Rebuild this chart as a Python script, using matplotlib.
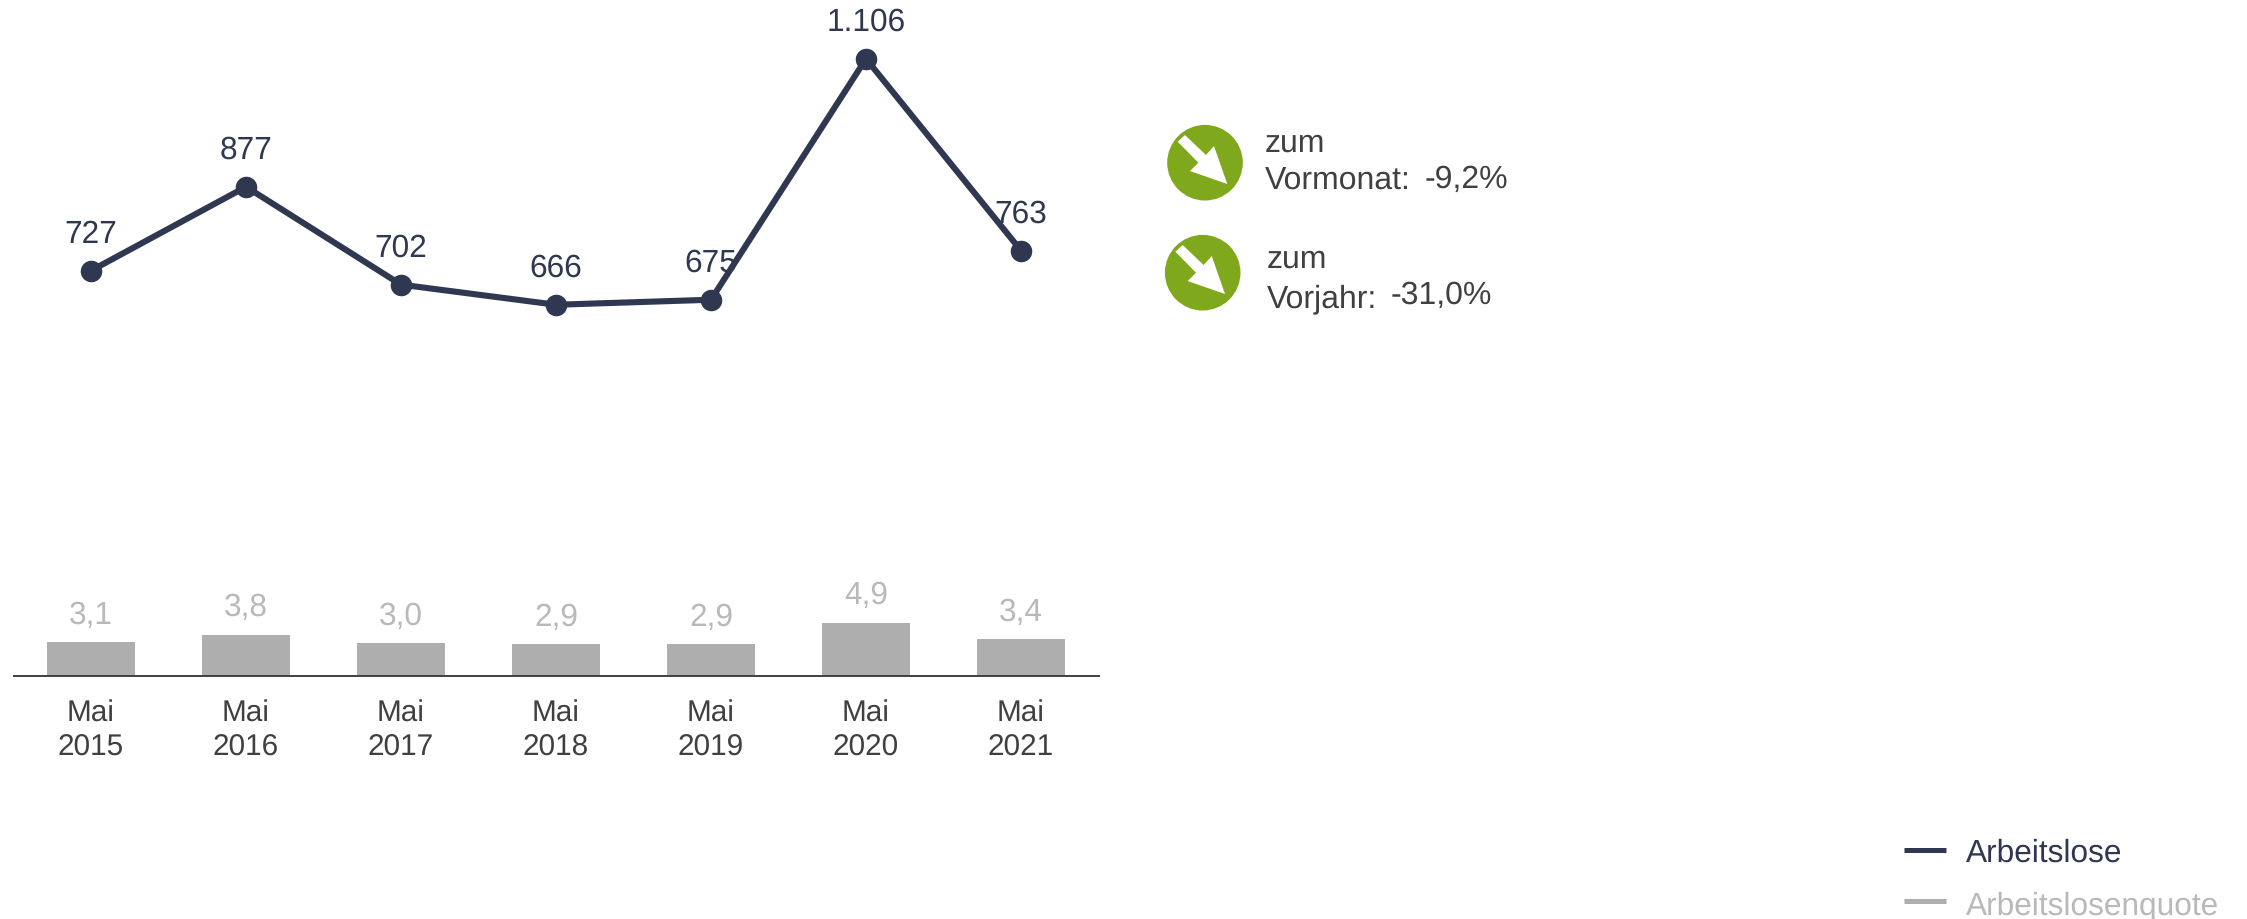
import matplotlib
matplotlib.use('Agg')
from matplotlib import pyplot as plt
from matplotlib.patches import Circle, Polygon

plt.rcParams['font.family'] = ['Liberation Sans', 'DejaVu Sans']
plt.rcParams['text.hinting'] = 'none'

# Data #
months = ['Mai\n2015', 'Mai\n2016', 'Mai\n2017', 'Mai\n2018', 'Mai\n2019', 'Mai\n2020', 'Mai\n2021']
arbeitslose = [727, 877, 702, 666, 675, 1106, 763]
quote = [3.1, 3.8, 3.0, 2.9, 2.9, 4.9, 3.4]
changes = [('zum', 'Vormonat:', '-9,2%'), ('zum', 'Vorjahr:', '-31,0%')]
legend_names = ['Arbeitslose', 'Arbeitslosenquote']

NAVY = '#2f3850'
GREY = '#aeaeae'
GREY_TEXT = '#b9b9b9'
TEXT = '#404040'
GREEN = '#7fa81c'
W, H = 2247, 920

fig = plt.figure(figsize=(W / 100, H / 100), dpi=100)


def px_axes(left, top, right, bottom):
    return fig.add_axes([left / W, 1 - bottom / H, (right - left) / W, (bottom - top) / H])


# Line #
ax_line = px_axes(13.5, 1, 1098.5, 481)
ax_line.plot(range(len(arbeitslose)), arbeitslose, color=NAVY, lw=4.4, marker='o', ms=14.5, zorder=3)
ax_line.set_xlim(-0.5, 6.5)
ax_line.set_ylim(1106 - (480 - 58.8) / 0.559, 1106 + 58.8 / 0.559)
ax_line.axis('off')
for i, v in enumerate(arbeitslose):
    ax_line.annotate(f'{v:,}'.replace(',', '.'), (i, v), xytext=(0, 26.8), textcoords='offset points',
                     ha='center', va='center', fontsize=22.8, color=NAVY, zorder=2,
                     annotation_clip=False)

# Bars #
ax_bar = px_axes(13.5, 577, 1098.5, 677)
ax_bar.bar(range(len(quote)), quote, width=88 / 155, color=GREY)
ax_bar.set_xlim(-0.5, 6.5)
ax_bar.set_ylim(0, 100 / 10.9)
ax_bar.patch.set_visible(False)
for side in ['top', 'left', 'right']:
    ax_bar.spines[side].set_visible(False)
ax_bar.spines['bottom'].set_color(TEXT)
ax_bar.spines['bottom'].set_linewidth(1.4)
ax_bar.set_yticks([])
ax_bar.set_xticks(range(len(months)))
ax_bar.set_xticklabels(months, fontsize=21.4, color=TEXT, linespacing=1.26)
ax_bar.tick_params(axis='x', length=0, pad=16.5)
for i, v in enumerate(quote):
    ax_bar.annotate(f'{v:.1f}'.replace('.', ','), (i, v), xytext=(0, 19.8), textcoords='offset points',
                    ha='center', va='center', fontsize=22.8, color=GREY_TEXT)

# Overlay in pixels for the icons and the legend #
ov = px_axes(0, 0, W, H)
ov.set_xlim(0, W)
ov.set_ylim(H, 0)
ov.axis('off')
ov.patch.set_visible(False)

arrow = [(113, 125), (135, 105), (198, 165), (222, 138), (262, 252), (150, 213), (175, 188)]
icons = [(1205, 163.7, 1264.5, 151.7, 189, 1425, 187.5), (1202.7, 273.7, 1266.5, 267.7, 307.5, 1391, 303.5)]
for (l1, l2, pct), (cx, cy, tx, y1, y2, px, py) in zip(changes, icons):
    ov.add_patch(Circle((cx, cy), 37.8, color=GREEN, lw=0))
    ov.add_patch(Polygon([(cx + (a - 195) / 3, cy + (b - 188) / 3) for a, b in arrow], color='white', lw=0))
    ov.text(tx, y1, l1, fontsize=23, color=TEXT, va='baseline')
    ov.text(tx, y2, l2, fontsize=23, color=TEXT, va='baseline')
    ov.text(px, py, pct, fontsize=23, color=TEXT, va='baseline')

for name, col, tcol, ly, by in zip(legend_names, [NAVY, GREY], [NAVY, GREY_TEXT], [850.5, 902], [862, 914]):
    ov.plot([1904, 1946], [ly, ly], color=col, lw=3.6, solid_capstyle='butt')
    ov.text(1966, by, name, fontsize=22.8, color=tcol, va='baseline')

plt.savefig('out.png', dpi=100)
